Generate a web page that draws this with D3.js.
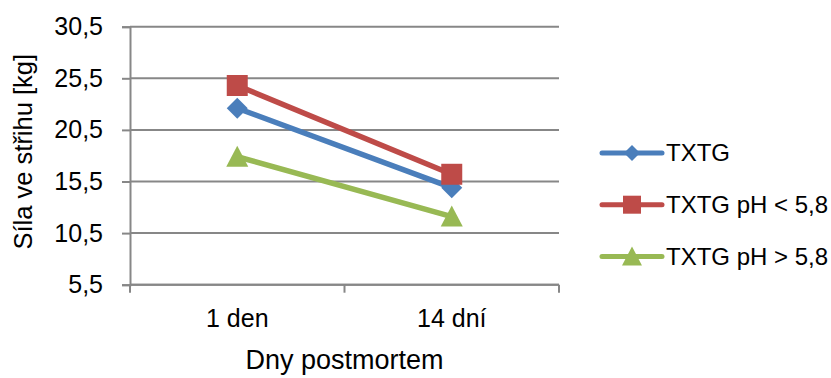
<!DOCTYPE html>
<html>
<head>
<meta charset="utf-8">
<script src="https://cdn.jsdelivr.net/npm/d3@7"></script>
<style>
  html, body { margin: 0; padding: 0; background: #fff; }
  svg { display: block; }
  text { font-family: "Liberation Sans", Arial, sans-serif; fill: #000; }
</style>
</head>
<body>
<svg id="chart" width="831" height="378"></svg>
<script>
// Shear force by days post mortem
const categories = ["1 den", "14 dní"];
const seriesNames = ["TXTG", "TXTG pH < 5,8", "TXTG pH > 5,8"];
const txtg = [22.6, 14.9];
const txtgLow = [24.8, 16.2];
const txtgHigh = [17.9, 12.1];
const yTicks = [5.5, 10.5, 15.5, 20.5, 25.5, 30.5];
const colors = ["#4A7EBB", "#BE4B48", "#98B954"];
const markers = ["diamond", "square", "triangle"];

const series = seriesNames.map((name, i) => ({
  name,
  values: [txtg, txtgLow, txtgHigh][i],
  color: colors[i],
  marker: markers[i]
}));

const svg = d3.select("#chart");
const plot = { left: 130, right: 559, top: 26.7, bottom: 284.7 };

const x = d3.scaleBand().domain(categories).range([plot.left, plot.right]);
const y = d3.scaleLinear().domain([5.5, 30.5]).range([plot.bottom, plot.top]);

const fmt = d => d3.format(".1f")(d).replace(".", ",");
const gridColor = "#878787";

// horizontal gridlines
svg.append("g")
  .selectAll("line")
  .data(yTicks)
  .join("line")
  .attr("x1", plot.left).attr("x2", plot.right)
  .attr("y1", d => y(d)).attr("y2", d => y(d))
  .attr("stroke", gridColor).attr("stroke-width", 2);

// y axis
const yAxis = svg.append("g")
  .attr("transform", `translate(${plot.left},0)`)
  .call(d3.axisLeft(y).tickValues(yTicks).tickFormat(fmt).tickSize(8).tickPadding(19));
yAxis.select(".domain").attr("stroke", gridColor).attr("stroke-width", 2);
yAxis.selectAll(".tick line").attr("stroke", gridColor).attr("stroke-width", 2);
yAxis.selectAll(".tick text")
  .style("font-family", '"Liberation Sans", Arial, sans-serif')
  .style("font-size", "25px").attr("fill", "#000");

// x axis: line with ticks at category boundaries
const xAxis = svg.append("g")
  .attr("transform", `translate(0,${plot.bottom})`)
  .call(d3.axisBottom(x).tickSize(0).tickPadding(25));
xAxis.select(".domain").attr("stroke", gridColor).attr("stroke-width", 2)
  .attr("d", `M${plot.left},0H${plot.right}`);
xAxis.selectAll(".tick text")
  .style("font-family", '"Liberation Sans", Arial, sans-serif')
  .style("font-size", "25px").attr("fill", "#000");
const boundaries = [x.range()[0], ...categories.map(c => x(c) + x.bandwidth())];
xAxis.append("g").selectAll("line")
  .data(boundaries)
  .join("line")
  .attr("x1", d => d).attr("x2", d => d)
  .attr("y1", 0).attr("y2", 8)
  .attr("stroke", gridColor).attr("stroke-width", 2);

// axis titles
svg.append("text")
  .attr("x", x.range()[0] + (x.range()[1] - x.range()[0]) / 2)
  .attr("y", 369)
  .attr("text-anchor", "middle")
  .style("font-size", "27px")
  .text("Dny postmortem");

svg.append("text")
  .attr("transform", `translate(32,${(plot.top + plot.bottom) / 2 - 4}) rotate(-90)`)
  .attr("text-anchor", "middle")
  .style("font-size", "25.5px")
  .text("Síla ve střihu [kg]");

// marker shapes
function markerPath(type, s) {
  if (type === "diamond") return `M0,${-s}L${s},0L0,${s}L${-s},0Z`;
  if (type === "square") return `M${-s},${-s}H${s}V${s}H${-s}Z`;
  const h = s * 1.9;
  return `M0,${-h / 2 - 1}L${s * 1.05},${h / 2}L${-s * 1.05},${h / 2}Z`;
}
const plotSize = { diamond: 10.5, square: 10.5, triangle: 10.5 };
const legendSize = { diamond: 8, square: 9, triangle: 9.5 };

const cx = c => x(c) + x.bandwidth() / 2;
const line = d3.line().x((d, i) => cx(categories[i])).y(d => y(d));

// series lines and markers
series.forEach(s => {
  const g = svg.append("g");
  g.append("path")
    .attr("d", line(s.values))
    .attr("fill", "none")
    .attr("stroke", s.color)
    .attr("stroke-width", 5.5)
    .attr("stroke-linejoin", "round")
    .attr("stroke-linecap", "round");
  g.selectAll("path.m")
    .data(s.values)
    .join("path")
    .attr("class", "m")
    .attr("d", markerPath(s.marker, plotSize[s.marker]))
    .attr("transform", (d, i) => `translate(${cx(categories[i])},${y(d)})`)
    .attr("fill", s.color);
});

// legend
const legend = svg.append("g").attr("transform", "translate(602,153)");
series.forEach((s, i) => {
  const row = legend.append("g").attr("transform", `translate(0,${i * 51.7})`);
  row.append("line")
    .attr("x1", 0).attr("x2", 60).attr("y1", 0).attr("y2", 0)
    .attr("stroke", s.color).attr("stroke-width", 5)
    .attr("stroke-linecap", "round");
  row.append("path")
    .attr("d", markerPath(s.marker, legendSize[s.marker]))
    .attr("transform", "translate(30,0)")
    .attr("fill", s.color);
  row.append("text")
    .attr("x", 64).attr("y", 0)
    .attr("dy", "0.35em")
    .style("font-size", "24px")
    .text(s.name);
});
</script>
</body>
</html>
